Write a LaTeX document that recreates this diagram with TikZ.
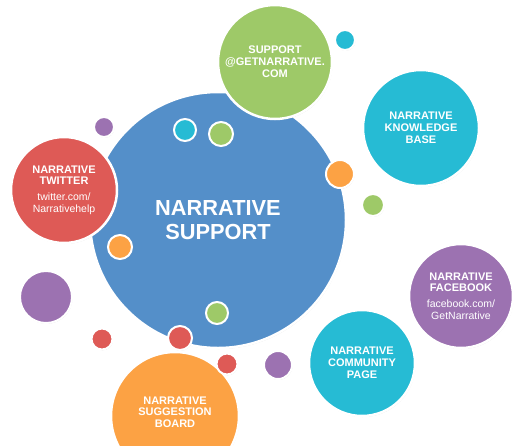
\documentclass[tikz,border=0pt]{standalone}
\usepackage{fontspec}
\setmainfont{Liberation Sans}
\usetikzlibrary{shadows}

\definecolor{nblue}{RGB}{84,143,201}
\definecolor{ngreen}{RGB}{158,201,104}
\definecolor{ncyan}{RGB}{38,187,212}
\definecolor{nred}{RGB}{222,90,86}
\definecolor{norange}{RGB}{252,162,68}
\definecolor{npurple}{RGB}{156,114,177}

\tikzset{
  bubble/.style={circle, draw=white, line width=2.5pt, inner sep=0pt,
    fill=#1, minimum size=2*\bubr pt, text=white, align=center,
    drop shadow={shadow xshift=0.6pt, shadow yshift=-1pt, opacity=0.3}},
  dot/.style={circle, draw=white, line width=2pt, inner sep=0pt,
    fill=#1, drop shadow={shadow xshift=0.5pt, shadow yshift=-0.8pt, opacity=0.3}},
  title/.style={font=\bfseries\fontsize{11}{11.8}\selectfont},
}
\newcommand{\bubr}{50}
\newcommand{\link}[1]{{\normalfont\fontsize{10.5}{12}\selectfont #1}}

\begin{document}
\begin{tikzpicture}[x=1pt, y=-1pt]
    \useasboundingbox (0,0) rectangle (527,445);

    % central bubble
    \renewcommand{\bubr}{128}
    \node[bubble=nblue, font=\bfseries\fontsize{21.8}{24}\selectfont] (hub) at (218,220) {NARRATIVE\\SUPPORT};

    % outer bubbles
    \renewcommand{\bubr}{57}
    \node[bubble=ngreen, title] (mail) at (275,62) {SUPPORT\\@GETNARRATIVE.\\COM};
    \renewcommand{\bubr}{58}
    \node[bubble=ncyan, title] (kbase) at (421,128) {NARRATIVE\\KNOWLEDGE\\BASE};
    \renewcommand{\bubr}{53}
    \node[bubble=nred, title] (twitter) at (64,190) {NARRATIVE\\TWITTER\\[4pt]\link{twitter.com/}\\\link{Narrativehelp}};
    \renewcommand{\bubr}{52}
    \node[bubble=npurple, title] (facebook) at (461,296) {NARRATIVE\\FACEBOOK\\[4pt]\link{facebook.com/}\\\link{GetNarrative}};
    \renewcommand{\bubr}{53}
    \node[bubble=ncyan, title] (community) at (362,363) {NARRATIVE\\COMMUNITY\\PAGE};
    \renewcommand{\bubr}{64}
    \node[bubble=norange, title] (board) at (175,416) {\\[-14pt]NARRATIVE\\SUGGESTION\\BOARD};

    % small dots
    \node[dot=ncyan, minimum size=20pt] (d1) at (345,40) {};
    \node[dot=npurple, minimum size=20pt] (d2) at (104,127) {};
    \node[dot=ncyan, minimum size=22pt] (d3) at (185,130) {};
    \node[dot=ngreen, minimum size=24pt] (d4) at (221,134) {};
    \node[dot=norange, minimum size=28pt] (d5) at (340,174) {};
    \node[dot=ngreen, minimum size=22pt] (d6) at (373,205) {};
    \node[dot=norange, minimum size=24pt] (d7) at (120,247) {};
    \node[dot=npurple, minimum size=52pt] (d8) at (46,297) {};
    \node[dot=ngreen, minimum size=22pt] (d9) at (217,313) {};
    \node[dot=nred, minimum size=21pt] (d10) at (102,339) {};
    \node[dot=nred, minimum size=24pt] (d11) at (180,338) {};
    \node[dot=nred, minimum size=21pt] (d12) at (227,364) {};
    \node[dot=npurple, minimum size=28pt] (d13) at (278,365) {};
\end{tikzpicture}
\end{document}
